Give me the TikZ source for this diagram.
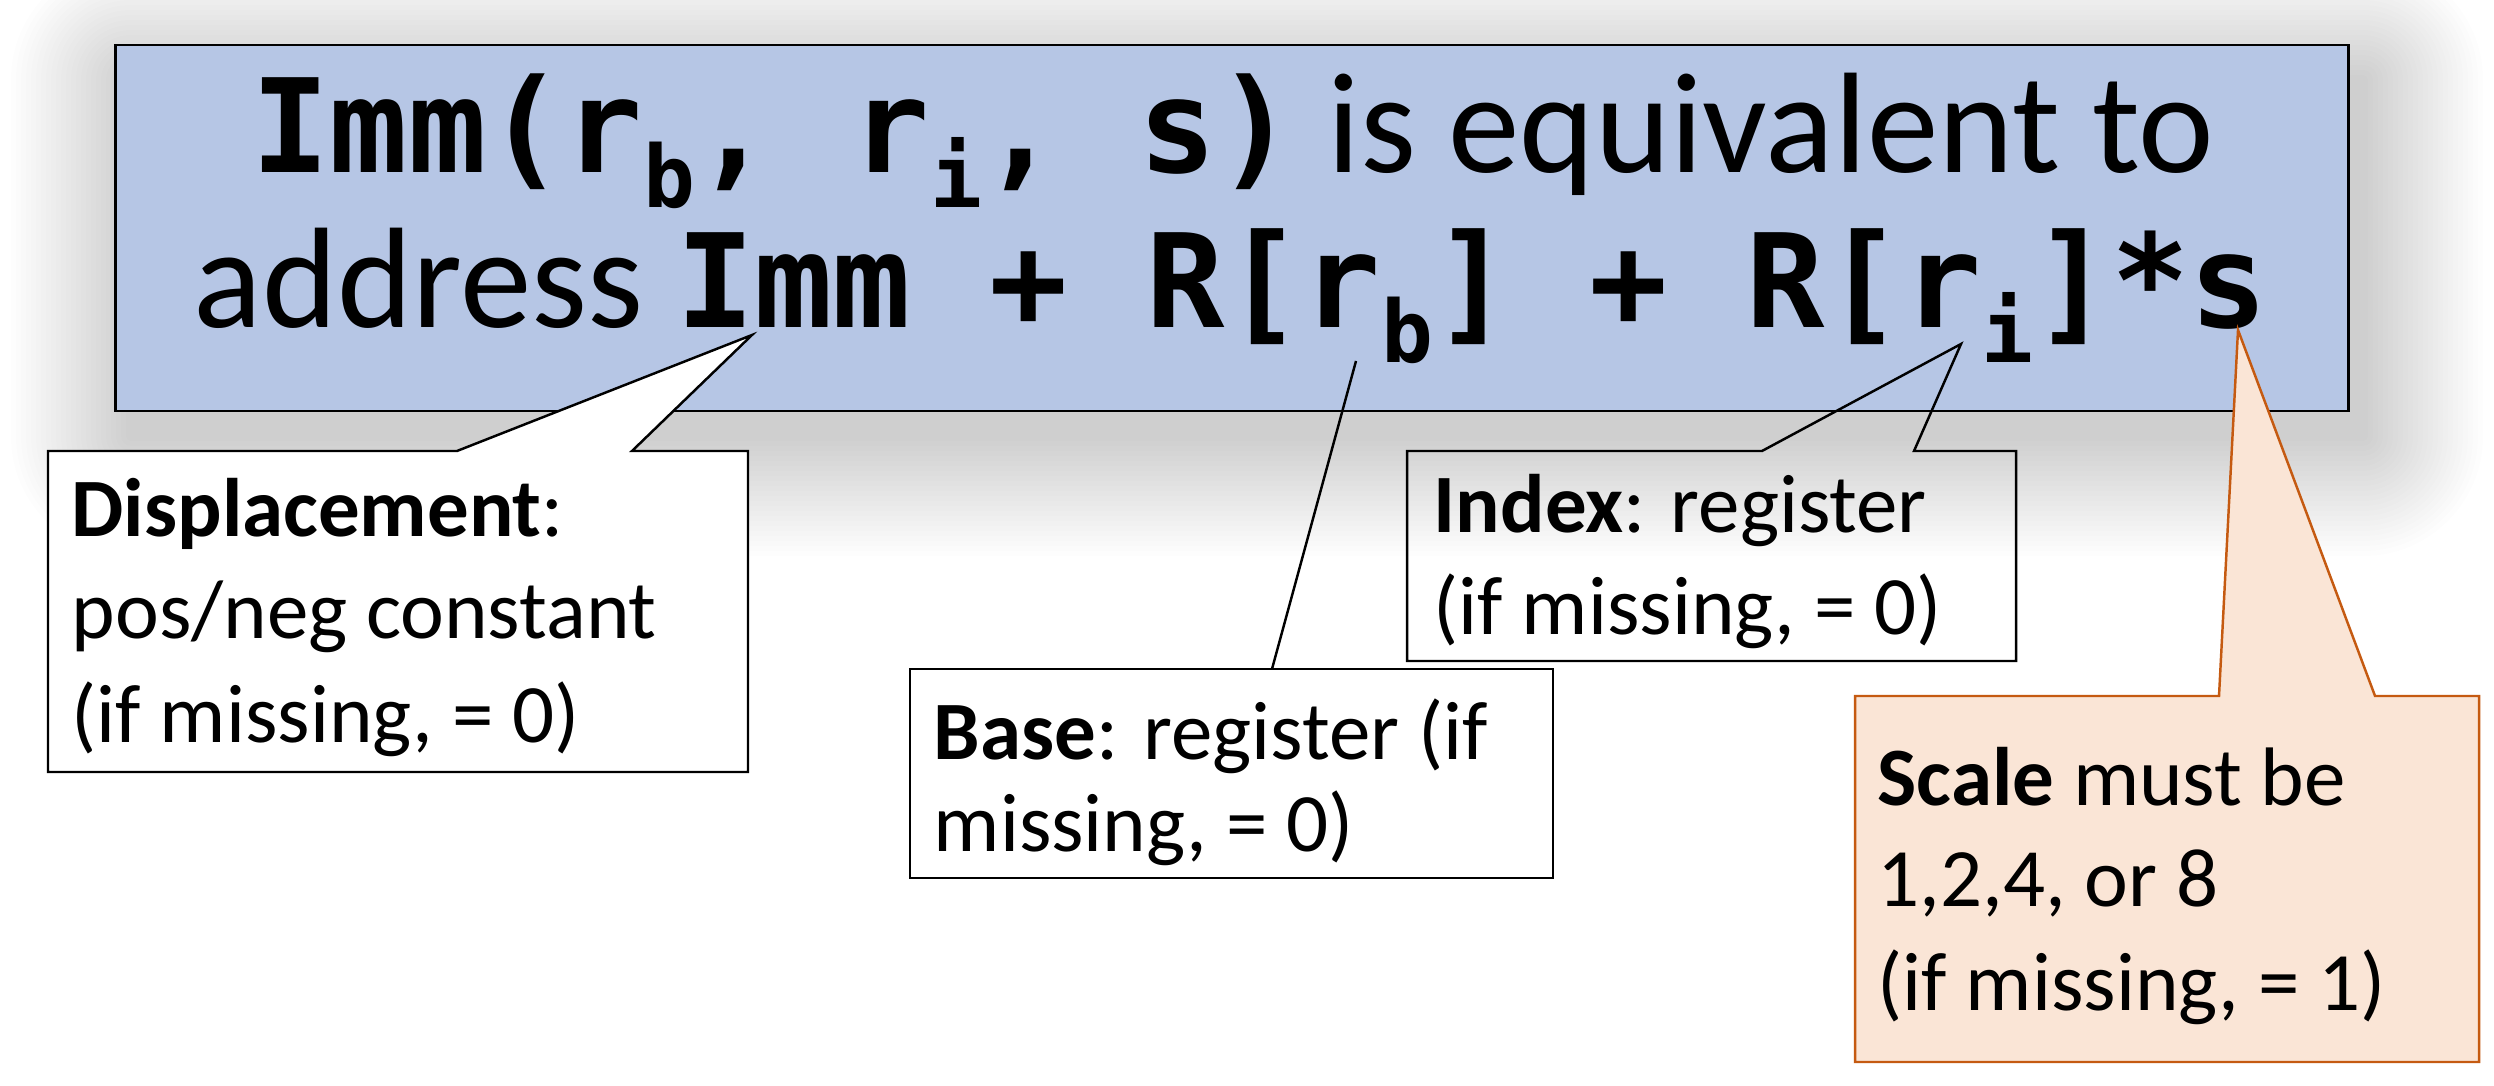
\documentclass[tikz,border=0pt]{standalone}
\usepackage{fontspec}
\setmainfont{Carlito}
\newfontfamily\monof{DejaVu Sans Mono}
\definecolor{boxblue}{RGB}{182,198,229}
\definecolor{peach}{RGB}{250,229,214}
\definecolor{rust}{RGB}{197,90,17}
\newcommand\cd[1]{{\monof\bfseries\fontsize{37}{37}\selectfont #1}}
\newcommand\sbx[1]{\raisebox{-9.7pt}{\monof\bfseries\fontsize{24.5}{24.5}\selectfont #1}}
\tikzset{
  bigtxt/.style={anchor=base, inner sep=0pt, font=\fontsize{40.7}{44}\selectfont},
  calltxt/.style={anchor=base west, inner sep=0pt, font=\fontsize{23.6}{28}\selectfont},
  bluebox/.style={draw=black, line width=0.7pt, fill=boxblue, inner sep=0pt},
  shadowlayer/.style={fill=black, fill opacity=0.0095},
  calloutline/.style={draw=black, line width=0.7pt, line join=miter},
  scaleline/.style={draw=rust, line width=0.7pt, fill=peach, line join=miter}
}
\begin{document}
\begin{tikzpicture}[x=0.01cm,y=-0.01cm]
\useasboundingbox (0,0) rectangle (2494,1086);
\fill[white] (0,0) rectangle (2494,1086);
% soft shadow of the main box
\foreach \k in {1,...,24}{
  \fill[shadowlayer, rounded corners={\k*1.42pt}]
    ({131-\k*5},{80-\k*5}) rectangle ({2363+\k*5},{436+\k*5});
}
% main box
\node[bluebox, minimum width=22.32cm, minimum height=3.66cm] (main) at (1232,228) {};
\node[bigtxt] (l1) at (1233,173) {\cd{Imm(r\sbx{b}, r\sbx{i}, s)} is equivalent to};
\node[bigtxt] (l2) at (1231,328) {address \cd{Imm + R[r\sbx{b}] + R[r\sbx{i}]*s}};
% tips
\coordinate (tipd) at (752,335);
\coordinate (tipb) at (1356,361);
\coordinate (tipi) at (1961,344);
\coordinate (tips) at (2238,330);
% displacement callout
\path[calloutline, fill=white] (48,451) -- (457,451) -- (tipd) -- (632,451) -- (748,451)
  -- (748,772) -- (48,772) -- cycle;
\node[calltxt] (d1) at (71,537) {\textbf{Displacement}:};
\node[calltxt] (d2) at (71,639) {pos/neg constant};
\node[calltxt] (d3) at (71,743) {(if missing, = 0)};
% base callout
\path[calloutline] (910,669) rectangle (1553,878);
\coordinate (bb) at (1272,669);
\draw[black, line width=0.7pt] (bb) -- (tipb);
\node[calltxt] (b1) at (933,760) {\textbf{Base}: register (if};
\node[calltxt] (b2) at (933,852) {missing, = 0)};
% index callout
\path[calloutline] (1407,451) -- (1762,451) -- (tipi) -- (1914,451) -- (2016,451)
  -- (2016,661) -- (1407,661) -- cycle;
\node[calltxt] (i1) at (1433,533) {\textbf{Index}: register};
\node[calltxt] (i2) at (1433,635) {(if missing, = 0)};
% scale callout
\path[scaleline] (1855,696) -- (2219,696) -- (tips) -- (2375,696) -- (2479,696)
  -- (2479,1062) -- (1855,1062) -- cycle;
\node[calltxt] (s1) at (1877,806) {\textbf{Scale} must be};
\node[calltxt] (s2) at (1877,907) {1,2,4, or 8};
\node[calltxt] (s3) at (1877,1010) {(if missing, = 1)};
\end{tikzpicture}
\end{document}
